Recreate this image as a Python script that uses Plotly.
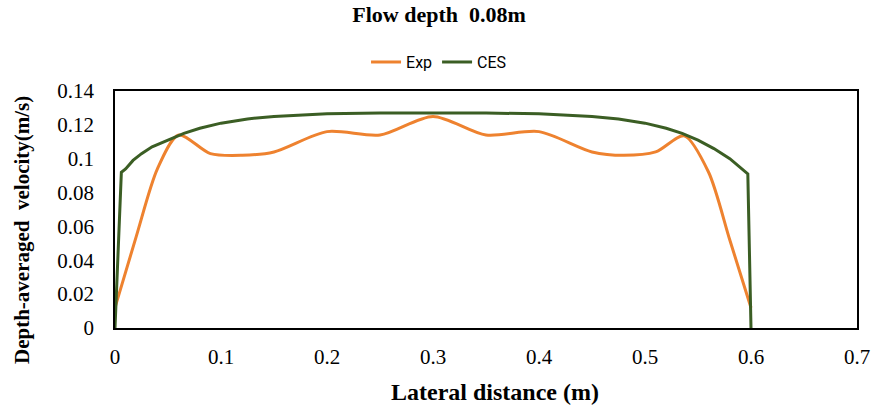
import plotly.graph_objects as go

# Experimental data
exp_x = [0, 0.02, 0.04, 0.06, 0.09, 0.12, 0.15, 0.2, 0.25, 0.3, 0.35, 0.4, 0.45, 0.48, 0.51, 0.537, 0.56, 0.58, 0.6]
exp_y = [0.012, 0.054, 0.094, 0.114, 0.103, 0.102, 0.104, 0.116, 0.114, 0.125, 0.114, 0.116, 0.104, 0.102, 0.104, 0.1135, 0.092, 0.052, 0.012]

# CES model data
ces_x = [0, 0.006, 0.01, 0.017, 0.025, 0.035, 0.05, 0.065, 0.08, 0.1, 0.125, 0.15, 0.2, 0.25, 0.3, 0.35, 0.4, 0.45, 0.475, 0.5, 0.52, 0.535, 0.55, 0.565, 0.58, 0.59, 0.597, 0.6]
ces_y = [0, 0.092, 0.094, 0.099, 0.103, 0.107, 0.111, 0.115, 0.118, 0.121, 0.1235, 0.125, 0.1265, 0.127, 0.127, 0.127, 0.1265, 0.125, 0.1235, 0.121, 0.118, 0.115, 0.111, 0.106, 0.100, 0.095, 0.091, 0]

x_ticks = [0, 0.1, 0.2, 0.3, 0.4, 0.5, 0.6, 0.7]
y_ticks = [0, 0.02, 0.04, 0.06, 0.08, 0.1, 0.12, 0.14]

title_text = "<b>Flow depth  0.08m</b>"
x_title = "<b>Lateral distance (m)</b>"
y_title = "<b>Depth-averaged  velocity(m/s)</b>"

fig = go.Figure()
fig.add_trace(go.Scatter(x=exp_x, y=exp_y, mode="lines", name="Exp",
                         line=dict(color="#EE822F", width=3, shape="spline", smoothing=0.8)))
fig.add_trace(go.Scatter(x=ces_x, y=ces_y, mode="lines", name="CES",
                         line=dict(color="#3B5E24", width=3)))

serif = "Liberation Serif, Times New Roman, serif"
fig.update_layout(
    width=878, height=409,
    margin=dict(l=115, r=21, t=91, b=81),
    paper_bgcolor="white", plot_bgcolor="white",
    title=dict(text=title_text, x=0.5, xanchor="center", y=0.966, yanchor="middle",
               font=dict(family=serif, size=22, color="black")),
    legend=dict(orientation="h", x=0.4367, xanchor="center", y=1.122, yanchor="middle",
                font=dict(family="Liberation Sans Narrow, Roboto, sans-serif", size=16, color="black"),
                bgcolor="rgba(0,0,0,0)"),
    showlegend=True,
    annotations=[
        dict(text=x_title, xref="paper", yref="paper", x=0.512, y=-0.27, xanchor="center", yanchor="middle",
             showarrow=False, font=dict(family=serif, size=24, color="black")),
        dict(text=y_title, xref="paper", yref="paper", x=0, y=0.4135, xanchor="center", yanchor="middle",
             xshift=-93, textangle=-90, showarrow=False, font=dict(family=serif, size=21, color="black")),
    ],
)
fig.update_xaxes(range=[0, 0.7], tickvals=x_ticks, ticktext=[f"{v:g}" for v in x_ticks],
                 automargin=False, ticklabelstandoff=9,
                 showgrid=False, zeroline=False, showline=True, linecolor="black", linewidth=1.5,
                 mirror=True, ticks="", tickfont=dict(family=serif, size=21, color="black"))
fig.update_yaxes(range=[0, 0.14], tickvals=y_ticks, ticktext=[f"{v:g}" for v in y_ticks],
                 automargin=False, ticklabelstandoff=15,
                 showgrid=False, zeroline=False, showline=True, linecolor="black", linewidth=1.5,
                 mirror=True, ticks="", tickfont=dict(family=serif, size=21, color="black"))

fig.write_html("out.html", config={"displayModeBar": False},
               post_script="document.body.style.margin='0';")
